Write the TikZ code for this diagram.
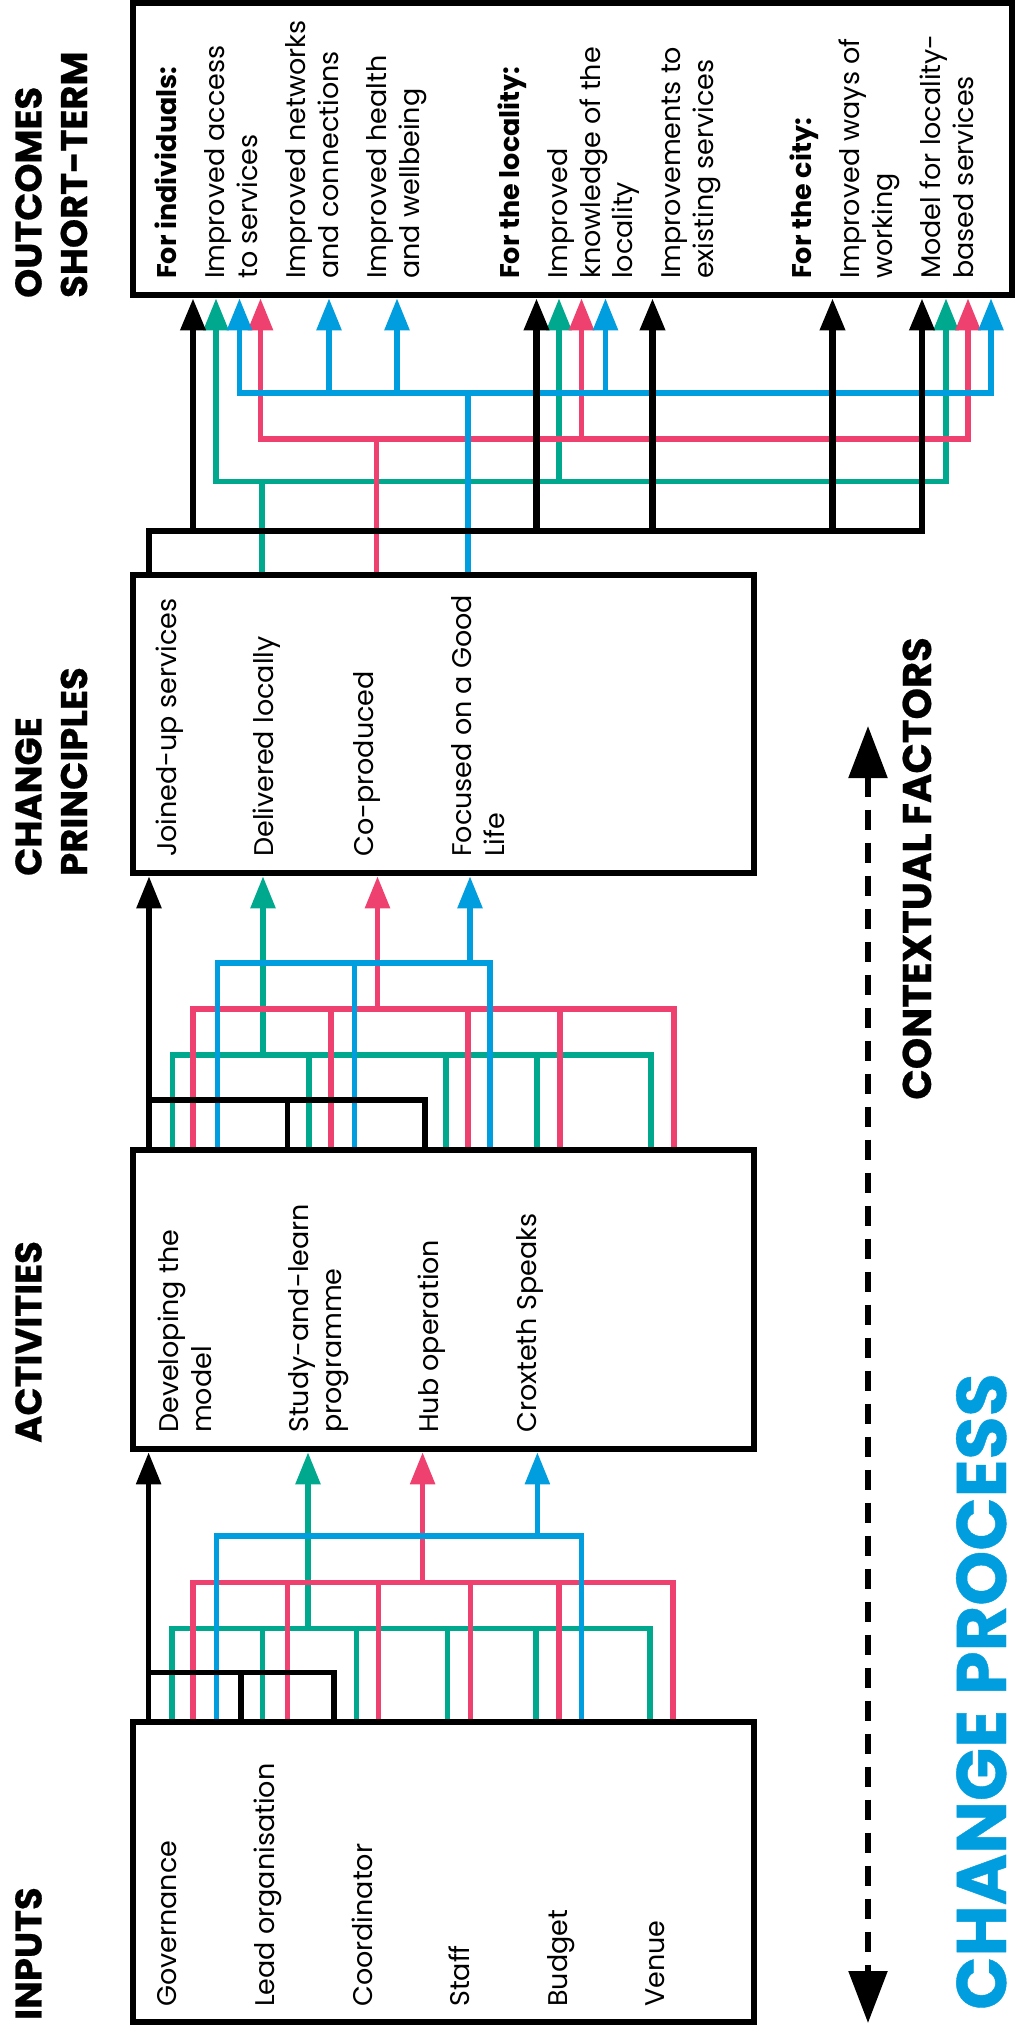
\documentclass[tikz,border=0pt]{standalone}
\usepackage{fontspec}
\setmainfont{Poppins}
\usetikzlibrary{arrows.meta}
\definecolor{cgreen}{RGB}{0,169,142}
\definecolor{cred}{RGB}{239,65,111}
\definecolor{cblue}{RGB}{0,157,223}
\begin{document}
\begin{tikzpicture}[x=1pt,y=-1pt,
  >={Triangle[width=24pt,length=32pt]},
  box/.style={draw, line width=6.5pt, inner sep=0pt},
  txt/.style={rotate=90, anchor=base west, inner sep=0pt, font=\fontsize{27}{33}\selectfont},
  head/.style={rotate=90, anchor=base west, inner sep=0pt, font=\fontsize{37}{44}\selectfont\bfseries\addfontfeatures{FakeBold=0.6}},
  kline/.style={line width=6.5pt, black},
  bline/.style={line width=5.5pt, black},
  gline/.style={line width=5.5pt, cgreen},
  rline/.style={line width=5.5pt, cred},
  uline/.style={line width=5.5pt, cblue}]
\useasboundingbox (0,0) rectangle (1016,2035);

% boxes
\node[box, minimum width=879pt, minimum height=292pt] (out) at (572.5,149) {};
\node[box, minimum width=621pt, minimum height=298pt] (cp) at (443.5,724) {};
\node[box, minimum width=621pt, minimum height=299pt] (act) at (443.5,1299.5) {};
\node[box, minimum width=621pt, minimum height=300pt] (inp) at (443.5,1872) {};

% headings
\node[head] (h1) at (41.5,298) {OUTCOMES};
\node[head] (h2) at (87,298) {SHORT-TERM};
\node[head] (h3) at (41.5,876) {CHANGE};
\node[head] (h4) at (87,876) {PRINCIPLES};
\node[head] (h5) at (41.5,1443) {ACTIVITIES};
\node[head] (h6) at (41.5,2020) {INPUTS};
\node[rotate=90, anchor=base, inner sep=0pt, font=\fontsize{40}{48}\selectfont\bfseries\addfontfeatures{FakeBold=0.6}] (ctx) at (931,868.5) {CONTEXTUAL FACTORS};
\node[rotate=90, anchor=base west, inner sep=0pt, text=cblue, font=\fontsize{70}{80}\selectfont\bfseries\addfontfeatures{FakeBold=0.6}] (proc) at (1006,2010) {\raisebox{0pt}[\height][0pt]{CHANGE PROCESS}};

% outcome texts
\node[txt] (o1) at (176,279) {\textbf{For individuals:}};
\node[txt] (o2) at (224,279) {Improved access};
\node[txt] (o3) at (257,279) {to services};
\node[txt] (o4) at (305,279) {Improved networks};
\node[txt] (o5) at (338,279) {and connections};
\node[txt] (o6) at (386,279) {Improved health};
\node[txt] (o7) at (419,279) {and wellbeing};
\node[txt] (o8) at (519,279) {\textbf{For the locality:}};
\node[txt] (o9) at (567,279) {Improved};
\node[txt] (o10) at (600,279) {knowledge of the};
\node[txt] (o11) at (632,279) {locality};
\node[txt] (o12) at (680,279) {Improvements to};
\node[txt] (o13) at (713,279) {existing services};
\node[txt] (o14) at (811,279) {\textbf{For the city:}};
\node[txt] (o15) at (859,279) {Improved ways of};
\node[txt] (o16) at (892,279) {working};
\node[txt] (o17) at (940,279) {Model for locality-};
\node[txt] (o18) at (973,279) {based services};

% principle texts
\node[txt] (p1) at (176,857) {Joined-up services};
\node[txt] (p2) at (273,857) {Delivered locally};
\node[txt] (p3) at (373,857) {Co-produced};
\node[txt] (p4) at (471,857) {Focused on a Good};
\node[txt] (p5) at (504,857) {Life};

% activity texts
\node[txt] (a1) at (178.5,1433) {Developing the};
\node[txt] (a2) at (211,1433) {model};
\node[txt] (a3) at (308.6,1433) {Study-and-learn};
\node[txt] (a4) at (341.6,1433) {programme};
\node[txt] (a5) at (438.7,1433) {Hub operation};
\node[txt] (a6) at (536,1433) {Croxteth Speaks};

% input texts
\node[txt] (i1) at (176.5,2007) {Governance};
\node[txt] (i2) at (274,2007) {Lead organisation};
\node[txt] (i3) at (372,2007) {Coordinator};
\node[txt] (i4) at (469,2007) {Staff};
\node[txt] (i5) at (567,2007) {Budget};
\node[txt] (i6) at (664,2007) {Venue};

% ---------- principles -> outcomes ----------
\draw[gline] (262,0 |- cp.north) -- (262,481.5);
\draw[gline,<->] (216,0 |- out.south) -- (216,481.5) -- (946,481.5) -- (946,0 |- out.south);
\draw[gline,->] (559,481.5) -- (559,0 |- out.south);
\draw[rline] (376.5,0 |- cp.north) -- (376.5,439);
\draw[rline,<->] (260.5,0 |- out.south) -- (260.5,439) -- (968,439) -- (968,0 |- out.south);
\draw[rline,->] (581.5,439) -- (581.5,0 |- out.south);
\draw[uline] (468,0 |- cp.north) -- (468,393);
\draw[uline,<->] (239.5,0 |- out.south) -- (239.5,393) -- (991,393) -- (991,0 |- out.south);
\foreach \x in {329,397,605.5} \draw[uline,->] (\x,393) -- (\x,0 |- out.south);
\draw[kline,->] (149,0 |- cp.north) -- (149,531) -- (922,531) -- (922,0 |- out.south);
\foreach \x in {193,536.5,652.5,832.5} \draw[kline,->] (\x,531) -- (\x,0 |- out.south);

% ---------- activities -> principles ----------
\draw[gline] (172.7,0 |- act.north) -- (172.7,1055) -- (651,1055) -- (651,0 |- act.north);
\foreach \x in {309,446,537} \draw[gline] (\x,1055) -- (\x,0 |- act.north);
\draw[gline,->] (263,1055) -- (263,0 |- cp.south);
\draw[rline] (193,0 |- act.north) -- (193,1009) -- (674,1009) -- (674,0 |- act.north);
\foreach \x in {331,468,560} \draw[rline] (\x,1009) -- (\x,0 |- act.north);
\draw[rline,->] (377.5,1009) -- (377.5,0 |- cp.south);
\draw[uline] (217.5,0 |- act.north) -- (217.5,963) -- (490,963) -- (490,0 |- act.north);
\draw[uline] (354.5,963) -- (354.5,0 |- act.north);
\draw[uline,->] (470,963) -- (470,0 |- cp.south);
\draw[bline,->] (149,0 |- act.north) -- (149,0 |- cp.south);
\draw[bline] (149,1100) -- (425,1100) -- (425,0 |- act.north);
\draw[bline] (287.5,1100) -- (287.5,0 |- act.north);

% ---------- inputs -> activities ----------
\draw[gline] (172,0 |- inp.north) -- (172,1628.6) -- (650,1628.6) -- (650,0 |- inp.north);
\foreach \x in {262.6,356.4,447.5,536} \draw[gline] (\x,1628.6) -- (\x,0 |- inp.north);
\draw[gline,->] (308,1628.6) -- (308,0 |- act.south);
\draw[rline] (193,0 |- inp.north) -- (193,1582.6) -- (673,1582.6) -- (673,0 |- inp.north);
\foreach \x in {287.5,378.6,470.5,559} \draw[rline] (\x,1582.6) -- (\x,0 |- inp.north);
\draw[rline,->] (422.6,1582.6) -- (422.6,0 |- act.south);
\draw[uline] (216.7,0 |- inp.north) -- (216.7,1536) -- (581.4,1536) -- (581.4,0 |- inp.north);
\draw[uline,->] (537.4,1536) -- (537.4,0 |- act.south);
\draw[bline,->] (148.6,0 |- inp.north) -- (148.6,0 |- act.south);
\draw[bline] (148.6,1672.6) -- (334,1672.6) -- (334,0 |- inp.north);
\draw[bline] (240.8,1672.6) -- (240.8,0 |- inp.north);

% contextual factors dashed arrow
\coordinate (ctop) at (868,726);
\coordinate (cbot) at (868,2023);
\draw[line width=5.5pt, dash pattern=on 20pt off 13pt,
  {Triangle[width=38pt,length=52pt]}-{Triangle[width=38pt,length=52pt]}] (ctop) -- (cbot);
\end{tikzpicture}
\end{document}
